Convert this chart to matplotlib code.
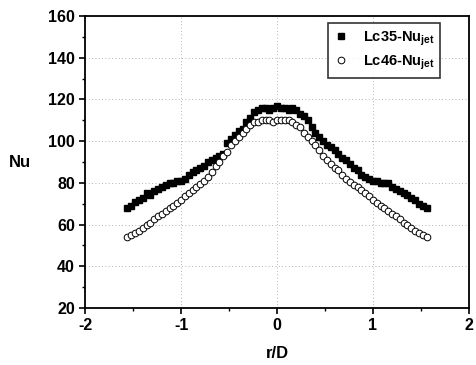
import numpy as np
import matplotlib
matplotlib.use("Agg")
import matplotlib.pyplot as plt
from matplotlib.ticker import MultipleLocator

plt.rcParams['font.family'] = ['Liberation Sans', 'DejaVu Sans']
plt.rcParams['font.weight'] = 'bold'
plt.rcParams['mathtext.fontset'] = 'custom'
plt.rcParams['mathtext.bf'] = 'Liberation Sans:bold'
plt.rcParams['mathtext.rm'] = 'Liberation Sans:bold'
plt.rcParams['axes.unicode_minus'] = False

# radial positions r/D
r = [-1.56, -1.52, -1.48, -1.44, -1.40, -1.36, -1.32, -1.28, -1.24, -1.20,
     -1.16, -1.12, -1.08, -1.04, -1.00, -0.96, -0.92, -0.88, -0.84, -0.80,
     -0.76, -0.72, -0.68, -0.64, -0.60, -0.56, -0.52, -0.48, -0.44, -0.40,
     -0.36, -0.32, -0.28, -0.24, -0.20, -0.16, -0.12, -0.08, -0.04, 0.00,
     0.04, 0.08, 0.12, 0.16, 0.20, 0.24, 0.28, 0.32, 0.36, 0.40,
     0.44, 0.48, 0.52, 0.56, 0.60, 0.64, 0.68, 0.72, 0.76, 0.80,
     0.84, 0.88, 0.92, 0.96, 1.00, 1.04, 1.08, 1.12, 1.16, 1.20,
     1.24, 1.28, 1.32, 1.36, 1.40, 1.44, 1.48, 1.52, 1.56]

nu_lc35 = [68, 69, 71, 72, 73, 75, 74, 76, 77, 78,
           79, 80, 80, 81, 81, 82, 84, 85, 86, 87,
           88, 90, 91, 92, 93, 94, 99, 101, 103, 105,
           106, 109, 111, 114, 115, 116, 116, 115, 116, 117,
           116, 116, 115, 116, 115, 113, 112, 110, 107, 104,
           102, 100, 98, 97, 96, 94, 92, 91, 89, 87,
           86, 84, 83, 82, 81, 81, 80, 80, 80, 78,
           77, 76, 75, 74, 73, 72, 70, 69, 68]

nu_lc46 = [54, 55, 56, 57, 58.5, 60, 61, 62.5, 64, 65,
           66.5, 68, 69, 70.5, 72, 73.5, 75, 76.5, 78, 79.5,
           81, 83, 85, 88, 90, 93, 95, 98, 100, 102,
           104, 106, 108, 109, 109, 110, 110, 110, 109, 110,
           110, 110, 110, 109, 108, 107, 104, 102, 100, 98,
           96, 93, 91, 89, 87, 86, 84, 82, 80.5, 79,
           78, 76.5, 75, 73.5, 72, 70.5, 69, 68, 66.5, 65,
           64, 62.5, 61, 60, 58.5, 57, 56, 55, 54]

fig = plt.figure(figsize=(4.76, 3.65), dpi=100)
ax = fig.add_axes([0.179, 0.156, 0.806, 0.80])

ax.plot(r, nu_lc35, 's', color='black', markersize=4.6, label=r'Lc35-Nu$_{\bf jet}$')
ax.plot(r, nu_lc46, 'o', markerfacecolor='white', markeredgecolor='black',
        markeredgewidth=0.7, markersize=4.8, label=r'Lc46-Nu$_{\bf jet}$')

ax.set_xlim(-2, 2)
ax.set_ylim(20, 160)
ax.xaxis.set_major_locator(MultipleLocator(1))
ax.xaxis.set_minor_locator(MultipleLocator(0.5))
ax.yaxis.set_major_locator(MultipleLocator(20))
ax.yaxis.set_minor_locator(MultipleLocator(10))
ax.tick_params(which='major', direction='out', length=4, width=1.2, labelsize=11.5)
ax.tick_params(which='minor', direction='out', length=2.5, width=1)
for s in ax.spines.values():
    s.set_linewidth(1.3)

ax.grid(True, which='major', linestyle=(0, (1, 3)), color='#999999', linewidth=0.6)

ax.set_xlabel('r/D', fontsize=12, fontweight='bold', labelpad=9)
ax.set_ylabel('Nu', fontsize=12, fontweight='bold', rotation=0, labelpad=20, va='center')

leg = ax.legend(loc='upper right', bbox_to_anchor=(0.945, 1.0), fontsize=10.5,
                frameon=True, fancybox=False, edgecolor='black', handletextpad=1.0,
                borderpad=0.4, labelspacing=0.4, handlelength=1.0)
leg.get_frame().set_linewidth(1.2)

fig.savefig('out.png', dpi=100)
